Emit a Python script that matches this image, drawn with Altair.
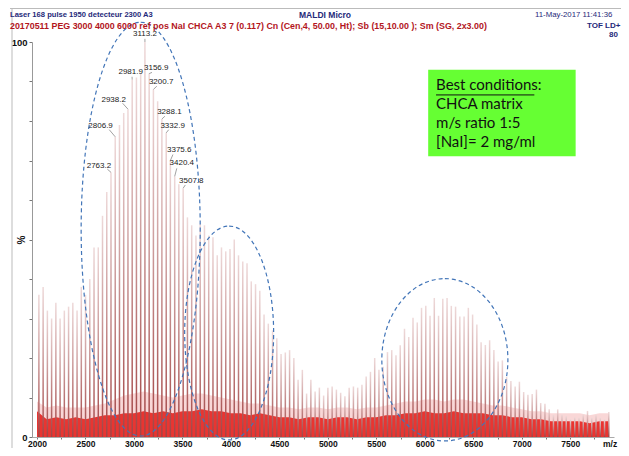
import altair as alt
import pandas as pd

# ---------------- peaks: m/z and relative intensity (%) ----------------
peak_mz = [2019.5, 2063.2, 2107.0, 2150.7, 2194.5, 2238.2, 2282.0, 2325.7, 2369.5, 2413.2,
           2457.0, 2500.7, 2544.5, 2588.2, 2632.0, 2675.7, 2719.5, 2763.2, 2806.9, 2850.7,
           2894.4, 2938.2, 2981.9, 3025.7, 3069.4, 3113.2, 3156.9, 3200.7, 3244.4, 3288.1,
           3332.9, 3375.6, 3420.4, 3463.1, 3507.8, 3551.7, 3595.6, 3639.5, 3683.4, 3727.3,
           3771.2, 3815.1, 3859.0, 3902.9, 3946.8, 3990.7, 4034.6, 4078.5, 4122.4, 4166.3,
           4210.2, 4254.1, 4298.0, 4341.9, 4385.8, 4429.7, 4473.6, 4517.5, 4561.4, 4605.3,
           4649.2, 4693.1, 4737.0, 4780.9, 4824.8, 4868.7, 4912.6, 4956.5, 5000.4, 5044.3,
           5088.2, 5132.1, 5176.0, 5219.9, 5263.8, 5307.7, 5351.6, 5395.5, 5439.4, 5483.3,
           5527.2, 5571.1, 5615.0, 5658.9, 5702.8, 5746.7, 5790.6, 5834.5, 5878.4, 5922.3,
           5966.2, 6010.1, 6054.0, 6097.9, 6141.8, 6185.7, 6229.6, 6273.5, 6317.4, 6361.3,
           6405.2, 6449.1, 6493.0, 6536.9, 6580.8, 6624.7, 6668.6, 6712.5, 6756.4, 6800.3,
           6844.2, 6888.1, 6932.0, 6975.9, 7019.8, 7063.7, 7107.6, 7151.5, 7195.4, 7239.3,
           7283.2, 7327.1, 7371.0, 7414.9, 7458.8, 7502.7, 7546.6, 7590.5, 7634.4, 7678.3,
           7722.2, 7766.1, 7810.0, 7853.9, 7897.8]
peak_pct = [36, 38, 32, 30, 34, 30, 32, 33, 34, 32,
            38, 36, 40, 48, 48, 56, 62, 67, 76, 79,
            82, 83, 90.5, 91, 92, 100, 92, 88, 85, 80.5,
            77, 70, 66, 64, 63, 55.6, 53.6, 51, 54, 53.6,
            51, 50.6, 46, 48, 47, 47.6, 50, 46, 44.4, 44,
            39.4, 38.7, 37, 31, 28.7, 27, 25, 21, 21.4, 22,
            20, 14.5, 17, 11, 14.5, 11.5, 12.5, 10.5, 12.5, 12.8,
            12, 11.2, 10.3, 12.5, 12.8, 12.5, 13.2, 15.3, 16.5, 20,
            17, 17.8, 21.5, 22, 20.7, 23.2, 27.4, 25.3, 30.2, 29,
            32.7, 33.2, 30.7, 35.2, 30.7, 35, 35.2, 33.2, 33, 30.5,
            30.5, 32.7, 31, 28.5, 24, 23.3, 24.5, 22, 19.1, 19.4,
            15.2, 14.2, 12.8, 14, 11.4, 10.7, 10.9, 12, 8.6, 8.4,
            7, 5.6, 7, 5.7, 5.3, 4.5, 5, 4.9, 5.7, 6.6,
            4.9, 5.6, 4.9, 4.5, 6.3]

# ---------------- labelled peaks ----------------
label_text = ["3113.2", "3156.9", "2981.9", "3200.7", "2938.2", "3288.1",
              "2806.9", "3332.9", "3375.6", "3420.4", "2763.2", "3507.8"]
label_peak = [3113.2, 3156.9, 2981.9, 3200.7, 2938.2, 3288.1,
              2806.9, 3332.9, 3375.6, 3420.4, 2763.2, 3507.8]
# where each label text sits, and where its leader line starts (data units)
label_x = [3113.2, 3229.7, 2966.1, 3280.4, 2790.8, 3365.6, 2655.9, 3399.0, 3466.9, 3493.3, 2638.7, 3591.6]
label_y = [102.0, 93.5, 92.3, 90.0, 85.3, 82.3, 78.8, 78.8, 72.6, 69.3, 68.6, 64.8]
lead_x = [3113.2, 3186.1, 2980.3, 3235.8, 2883.0, 3319.0, 2745.1, 3358.5, 3402.0, 3441.6, 2725.9, 3529.8]
lead_y = [100.8, 92.3, 91.2, 88.8, 84.5, 81.2, 77.8, 77.8, 71.5, 68.0, 67.8, 63.8]

# ---------------- chemical noise floor (%) ----------------
noise_mz = [2000, 2100, 2200, 2300, 2400, 2500, 2600, 2700, 2800, 2900,
            3000, 3100, 3200, 3300, 3400, 3500, 3600, 3700, 3800, 3900,
            4000, 4100, 4200, 4300, 4400, 4500, 4600, 4700, 4800, 4900,
            5000, 5100, 5200, 5300, 5400, 5500, 5600, 5700, 5800, 5900,
            6000, 6100, 6200, 6300, 6400, 6500, 6600, 6700, 6800, 6900,
            7000, 7100, 7200, 7300, 7400, 7500, 7600, 7700, 7800, 7900]
noise_red = [6.5, 4.5, 5, 4.5, 5, 4.5, 5, 5.5, 5.5, 6,
             6, 6.5, 6, 6.5, 6, 6.5, 6.5, 7, 6.5, 6.5,
             6, 6, 5.5, 6, 5.5, 5, 5, 4.5, 5, 5,
             4.5, 5, 5, 4.5, 5, 5, 5.5, 5.5, 6, 6,
             6.5, 6, 6, 6.5, 6, 6, 6, 5.5, 5.5, 5,
             5, 4.5, 4.5, 4, 4, 4, 4, 3.5, 4, 4]
noise_pink = [9, 7.5, 8, 7.5, 7.5, 7.5, 8, 8.5, 9.5, 10.5,
              11, 11.5, 11, 10.5, 10, 10.5, 11, 11, 10.5, 10,
              9.5, 9, 8.5, 8.5, 8, 7.5, 7.5, 7, 7.5, 7.5,
              7, 7.5, 7.5, 7, 7.5, 7.5, 8, 8.5, 9, 9,
              9.5, 9.5, 9, 9.5, 9.5, 9, 8.5, 8, 8, 7.5,
              7, 6.5, 6.5, 6, 6, 6, 6, 5.5, 6, 6]

# ---------------- dashed ellipses: extent in data units ----------------
ell_mz_lo = [2466, 3531, 5568]
ell_mz_hi = [3673, 4433, 6846]
ell_pct_lo = [0.25, -0.75, -1.0]
ell_pct_hi = [105, 53.4, 40.1]

# ---------------- texts ----------------
header1 = "Laser 168 pulse 1950 detecteur 2300  A3"
header_mid = "MALDI Micro"
header_date = "11-May-2017  11:41:36"
header2 = ("20170511 PEG 3000 4000 6000 ref pos NaI CHCA A3  7 (0.117) Cn (Cen,4, 50.00, Ht); "
           "Sb (15,10.00 ); Sm (SG, 2x3.00)")
header_tof = "TOF LD+"
header_int = "80"
box_lines = ["Best conditions:", "CHCA matrix", "m/s ratio 1:5", "[NaI]= 2 mg/ml"]
box_x = 6116
box_y = [89.0, 84.3, 79.6, 74.8]
box_extent = [6035, 7556, 71.1, 93.0]
underline = [6116, 7130, 86.6]

# ---------------- layout ----------------
W, H = 582, 395
XMIN, XMAX = 2000, 7900
PX_DA = W / (XMAX - XMIN)
PX_PCT = H / 100.0
xs = alt.Scale(domain=[XMIN, XMAX], nice=False, zero=False)
ys = alt.Scale(domain=[0, 100], nice=False, zero=False)

xaxis = alt.Axis(values=list(range(2000, 7901, 250)),
                 labelExpr="datum.value % 500 == 0 ? datum.label : ''",
                 format="d", title=None, grid=False, tickSize=2, tickColor="#777",
                 domainColor="#aaaaaa", labelFont="Liberation Sans", labelFontSize=8.5,
                 labelFontWeight="bold", labelColor="#111", labelPadding=0,
                 labelFlush=False, labelOverlap=False)
yaxis = alt.Axis(values=list(range(0, 101, 10)),
                 labelExpr="datum.value == 0 || datum.value == 100 ? datum.label : ''",
                 title=None, grid=False, tickSize=3, tickColor="#777", domainColor="#999999",
                 labelFont="Liberation Sans", labelFontSize=9.5, labelFontWeight="bold",
                 labelColor="#111", labelPadding=2, labelOverlap=False, labelFlush=False)


def X(f):
    return alt.X(f, type="quantitative", scale=xs, axis=xaxis)


def Y(f):
    return alt.Y(f, type="quantitative", scale=ys, axis=yaxis)


peaks_df = pd.DataFrame({"mz": peak_mz, "pct": peak_pct})
noise_df = pd.DataFrame({"mz": noise_mz, "red": noise_red, "pink": noise_pink})

height_of = dict(zip(peak_mz, peak_pct))
lab_df = pd.DataFrame({"t": label_text, "pmz": label_peak,
                       "ppct": [height_of[m] for m in label_peak],
                       "lx": label_x, "ly": label_y, "ax": lead_x, "ay": lead_y})

# ellipse symbols
K = 0.5523
rows = []
for lo, hi, plo, phi in zip(ell_mz_lo, ell_mz_hi, ell_pct_lo, ell_pct_hi):
    a = (hi - lo) / 2 * PX_DA
    b = (phi - plo) / 2 * PX_PCT
    m = max(a, b)
    rx, ry = a / m, b / m
    p = (f"M 0 {-ry:.4f} C {K*rx:.4f} {-ry:.4f} {rx:.4f} {-K*ry:.4f} {rx:.4f} 0 "
         f"C {rx:.4f} {K*ry:.4f} {K*rx:.4f} {ry:.4f} 0 {ry:.4f} "
         f"C {-K*rx:.4f} {ry:.4f} {-rx:.4f} {K*ry:.4f} {-rx:.4f} 0 "
         f"C {-rx:.4f} {-K*ry:.4f} {-K*rx:.4f} {-ry:.4f} 0 {-ry:.4f} Z")
    rows.append({"cx": (lo + hi) / 2, "cy": (plo + phi) / 2, "path": p, "sz": (2 * m) ** 2})
ell_df = pd.DataFrame(rows)

grad = {"gradient": "linear", "x1": 0, "x2": 0, "y1": 0, "y2": 1,
        "stops": [{"offset": 0, "color": "#eed9d9"},
                  {"offset": 0.45, "color": "#cc9c9c"},
                  {"offset": 1, "color": "#a24343"}]}

pink = alt.Chart(noise_df).mark_area(color="#f19a9a", opacity=0.4).encode(x=X("mz"), y=Y("pink"))
red = alt.Chart(noise_df).mark_area(color="#e61f1a", opacity=0.88).encode(x=X("mz"), y=Y("red"))
peaks = alt.Chart(peaks_df).mark_bar(size=1.5, color=grad).encode(x=X("mz"), y=Y("pct"))

leaders = alt.Chart(lab_df).mark_rule(color="#8a8a8a", strokeWidth=0.8).encode(
    x=X("ax"), y=Y("ay"), x2="pmz:Q", y2="ppct:Q")
labels = alt.Chart(lab_df).mark_text(font="Liberation Sans", fontSize=8, color="#222",
                                     align="center", baseline="middle").encode(
    x=X("lx"), y=Y("ly"), text="t:N")

ellipses = alt.Chart(ell_df).mark_point(filled=False, stroke="#4275b8", strokeWidth=1.2,
                                        strokeDash=[4, 3], opacity=1).encode(
    x=X("cx"), y=Y("cy"), shape=alt.Shape("path:N", scale=None),
    size=alt.Size("sz:Q", scale=None))

box_df = pd.DataFrame({"x1": [box_extent[0]], "x2": [box_extent[1]],
                       "y1": [box_extent[2]], "y2": [box_extent[3]]})
box = alt.Chart(box_df).mark_rect(color="#66ff33").encode(
    x=X("x1"), x2="x2:Q", y=Y("y1"), y2="y2:Q")
box_txt_df = pd.DataFrame({"t": box_lines, "x": [box_x] * 4, "y": box_y})
box_txt = alt.Chart(box_txt_df).mark_text(font="Lato", fontSize=15, color="#111",
                                          align="left", baseline="middle").encode(
    x=X("x"), y=Y("y"), text="t:N")
ul_df = pd.DataFrame({"x1": [underline[0]], "x2": [underline[1]], "y": [underline[2]]})
ul = alt.Chart(ul_df).mark_rule(color="#111", strokeWidth=1).encode(x=X("x1"), x2="x2:Q", y=Y("y"))


def txt(s, x, y, **kw):
    return alt.Chart(pd.DataFrame({"t": [s]})).mark_text(**kw).encode(
        text="t:N", x=alt.value(x), y=alt.value(y))


one = pd.DataFrame({"a": [0]})
frame_v = alt.Chart(one).mark_rule(color="#bbbbbb", strokeWidth=1).encode(
    x=alt.value(-20), y=alt.value(-33.5), y2=alt.value(420))
frame_h = alt.Chart(one).mark_rule(color="#bbbbbb", strokeWidth=1).encode(
    x=alt.value(-22), x2=alt.value(600), y=alt.value(-33.5))

navy = "#1f2a7a"
texts = [
    txt(header1, -22, -27.5, align="left", color=navy, font="Liberation Sans",
        fontSize=7.6, fontWeight="bold", baseline="middle"),
    txt(header_mid, 293, -27.5, align="center", color=navy, font="Liberation Sans",
        fontSize=8.5, fontWeight="bold", baseline="middle"),
    txt(header_date, 503, -27.5, align="left", color=navy, font="Liberation Sans",
        fontSize=7.8, baseline="middle"),
    txt(header2, -22, -16.5, align="left", color="#b3161d", font="Liberation Sans",
        fontSize=8.9, fontWeight="bold", baseline="middle"),
    txt(header_tof, 555, -16.5, align="left", color=navy, font="Liberation Sans",
        fontSize=8, fontWeight="bold", baseline="middle"),
    txt(header_int, 577, -7.5, align="left", color=navy, font="Liberation Sans",
        fontSize=8, fontWeight="bold", baseline="middle"),
    txt("%", -10, 198, align="center", angle=270, color="#111", font="Liberation Sans",
        fontSize=10, fontWeight="bold", baseline="middle"),
    txt("m/z", W - 11, H + 7, align="left", color="#111", font="Liberation Sans",
        fontSize=8.5, fontWeight="bold", baseline="middle"),
]

chart = alt.layer(pink, red, peaks, leaders, labels, ellipses, box, box_txt, ul,
                  frame_v, frame_h, *texts).properties(
    width=W, height=H,
    autosize=alt.AutoSizeParams(type="none"),
    padding={"left": 24, "top": 34, "right": 613 - 24 - W, "bottom": 440 - 34 - H},
    background="white",
).configure_view(strokeWidth=0)

chart.save("out.html", embed_options={"renderer": "svg", "actions": False})
